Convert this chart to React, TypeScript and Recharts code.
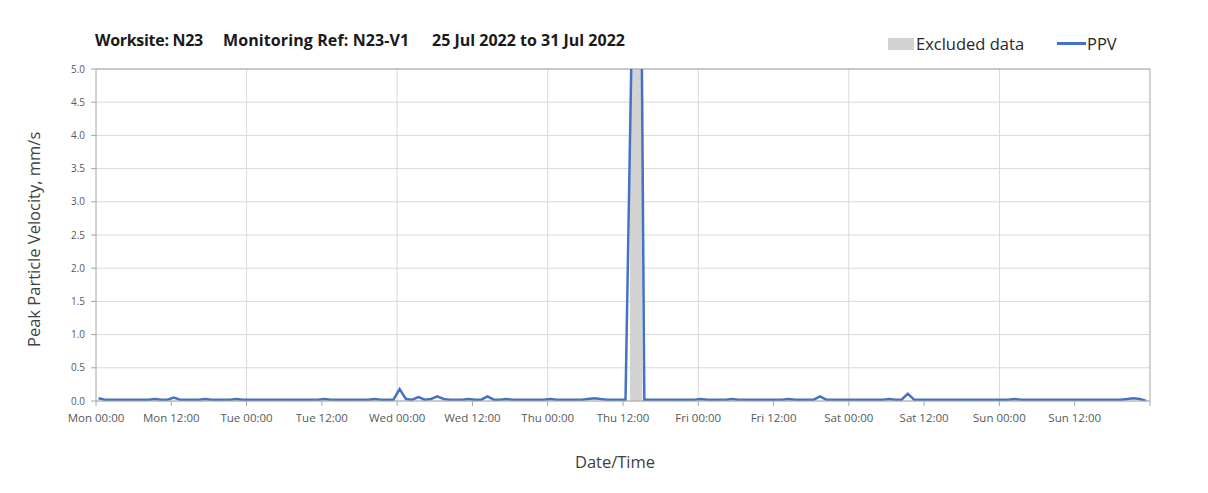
import React from "react";
import {
  ComposedChart,
  Line,
  Area,
  XAxis,
  YAxis,
  CartesianGrid,
  ReferenceLine,
} from "recharts";

// Hourly PPV readings (mm/s), Mon 25 Jul 2022 00:00 to Sun 31 Jul 2022 23:00
const monValues = [0.04, 0.02, 0.02, 0.02, 0.02, 0.02, 0.02, 0.02, 0.02, 0.03, 0.02, 0.02, 0.05, 0.02, 0.02, 0.02, 0.02, 0.03, 0.02, 0.02, 0.02, 0.02, 0.03, 0.02];
const tueValues = [0.02, 0.02, 0.02, 0.02, 0.02, 0.02, 0.02, 0.02, 0.02, 0.02, 0.02, 0.02, 0.03, 0.02, 0.02, 0.02, 0.02, 0.02, 0.02, 0.02, 0.03, 0.02, 0.02, 0.02];
const wedValues = [0.18, 0.03, 0.02, 0.06, 0.02, 0.03, 0.07, 0.03, 0.02, 0.02, 0.02, 0.03, 0.02, 0.02, 0.07, 0.02, 0.02, 0.03, 0.02, 0.02, 0.02, 0.02, 0.02, 0.02];
const thuValues = [0.03, 0.02, 0.02, 0.02, 0.02, 0.02, 0.03, 0.04, 0.03, 0.02, 0.02, 0.02, 0.02, 5.5, 13, 0.02, 0.02, 0.02, 0.02, 0.02, 0.02, 0.02, 0.02, 0.02];
const friValues = [0.03, 0.02, 0.02, 0.02, 0.02, 0.03, 0.02, 0.02, 0.02, 0.02, 0.02, 0.02, 0.02, 0.02, 0.03, 0.02, 0.02, 0.02, 0.02, 0.07, 0.02, 0.02, 0.02, 0.02];
const satValues = [0.02, 0.02, 0.02, 0.02, 0.02, 0.02, 0.03, 0.02, 0.02, 0.11, 0.02, 0.02, 0.02, 0.02, 0.02, 0.02, 0.02, 0.02, 0.02, 0.02, 0.02, 0.02, 0.02, 0.02];
const sunValues = [0.02, 0.02, 0.03, 0.02, 0.02, 0.02, 0.02, 0.02, 0.02, 0.02, 0.02, 0.02, 0.02, 0.02, 0.02, 0.02, 0.02, 0.02, 0.02, 0.02, 0.03, 0.04, 0.03, 0.0];

// readings are logged at 25 minutes past each hour
const readingOffsetHours = 0.4;

// excluded period (hours from Mon 00:00)
const excludedStart = 85.1;
const excludedEnd = 87.1;
const excludedLevel = 100;

const xTicks = [0, 12, 24, 36, 48, 60, 72, 84, 96, 108, 120, 132, 144, 156, 168];
const xTickLabels = [
  "Mon 00:00", "Mon 12:00", "Tue 00:00", "Tue 12:00", "Wed 00:00", "Wed 12:00",
  "Thu 00:00", "Thu 12:00", "Fri 00:00", "Fri 12:00", "Sat 00:00", "Sat 12:00",
  "Sun 00:00", "Sun 12:00", "",
];
const dayGridHours = [24, 48, 72, 96, 120, 144];
const yTicks = [0, 0.5, 1, 1.5, 2, 2.5, 3, 3.5, 4, 4.5, 5];

const allValues = [...monValues, ...tueValues, ...wedValues, ...thuValues, ...friValues, ...satValues, ...sunValues];
const ppvData = allValues.map((v, i) => ({ t: i + readingOffsetHours, ppv: v }));
const excludedData = [
  { t: excludedStart, excl: excludedLevel },
  { t: excludedEnd, excl: excludedLevel },
];

const FONT = "'Open Sans', 'Noto Sans', sans-serif";
const BLUE = "#4472C4";
const AXIS = "#a6a6a6";
const GRID = "#d9d9d9";

export default function App() {
  return (
    <div
      style={{
        position: "relative",
        width: 1208,
        height: 493,
        marginLeft: -8,
        marginTop: -8,
        overflow: "hidden",
        background: "#fff",
        fontFamily: FONT,
      }}
    >
      <div
        style={{
          position: "absolute",
          left: 5,
          top: 7,
          width: 1194,
          height: 600,
          borderTop: "1px solid #d9d9d9",
          borderLeft: "1px solid #d9d9d9",
          borderRight: "1px solid #e6e6e6",
        }}
      />
      <div style={{ position: "absolute", left: 0, top: 0 }}>
        <ComposedChart
          width={1208}
          height={493}
          margin={{ top: 69, right: 58, bottom: 0, left: 0 }}
        >
          <CartesianGrid vertical={false} stroke={GRID} strokeWidth={1} />
          {dayGridHours.map((h) => (
            <ReferenceLine key={h} x={h} stroke={GRID} strokeWidth={1} />
          ))}
          <XAxis
            dataKey="t"
            type="number"
            domain={[0, 168]}
            ticks={xTicks}
            interval={0}
            tickFormatter={(v: number) => xTickLabels[xTicks.indexOf(v)] ?? ""}
            height={92}
            stroke={AXIS}
            tickSize={5}
            tickMargin={8}
            tick={{ fontSize: 11.5, fill: "#595959", fontFamily: FONT }}
            allowDataOverflow
            label={{
              value: "Date/Time",
              position: "insideBottom",
              offset: 25,
              dx: -8,
              fontSize: 16.5,
              fill: "#404040",
              fontFamily: FONT,
            }}
          />
          <YAxis
            type="number"
            domain={[0, 5]}
            ticks={yTicks}
            interval={0}
            allowDataOverflow
            width={96}
            stroke={AXIS}
            tickSize={5}
            tickMargin={6}
            tickFormatter={(v: number) => v.toFixed(1)}
            tick={{ fontSize: 10, fill: "#595959", fontFamily: FONT }}
            label={{
              value: "Peak Particle Velocity, mm/s",
              angle: -90,
              position: "insideLeft",
              offset: 34,
              dy: 112,
              fontSize: 16.5,
              fill: "#404040",
              fontFamily: FONT,
            }}
          />
          <ReferenceLine y={5} stroke={AXIS} strokeWidth={1} />
          <ReferenceLine x={168} stroke={AXIS} strokeWidth={1} />
          <Area
            data={excludedData}
            dataKey="excl"
            type="linear"
            fill="#d3d3d3"
            fillOpacity={1}
            stroke="none"
            isAnimationActive={false}
            dot={false}
            activeDot={false}
          />
          <Line
            data={ppvData}
            dataKey="ppv"
            type="linear"
            stroke={BLUE}
            strokeWidth={2.5}
            dot={false}
            activeDot={false}
            isAnimationActive={false}
          />
        </ComposedChart>
      </div>
      {/* Title */}
      <div
        style={{
          position: "absolute",
          left: 95,
          top: 29,
          fontSize: 16,
          fontWeight: 700,
          color: "#1a1a1a",
          whiteSpace: "nowrap",
        }}
      >
        <span style={{ position: "absolute", left: 0, letterSpacing: -0.3 }}>Worksite: N23</span>
        <span style={{ position: "absolute", left: 128, letterSpacing: 0.1 }}>Monitoring Ref: N23-V1</span>
        <span style={{ position: "absolute", left: 337, letterSpacing: 0 }}>25 Jul 2022 to 31 Jul 2022</span>
      </div>
      {/* Legend */}
      <div style={{ position: "absolute", left: 888, top: 38, width: 26, height: 12, background: "#d3d3d3" }} />
      <div style={{ position: "absolute", left: 916, top: 32, fontSize: 16.5, color: "#262626", whiteSpace: "nowrap" }}>
        Excluded data
      </div>
      <div style={{ position: "absolute", left: 1057, top: 42, width: 29, height: 3, background: BLUE }} />
      <div style={{ position: "absolute", left: 1087, top: 32, fontSize: 16.5, color: "#262626", whiteSpace: "nowrap" }}>
        PPV
      </div>
    </div>
  );
}
